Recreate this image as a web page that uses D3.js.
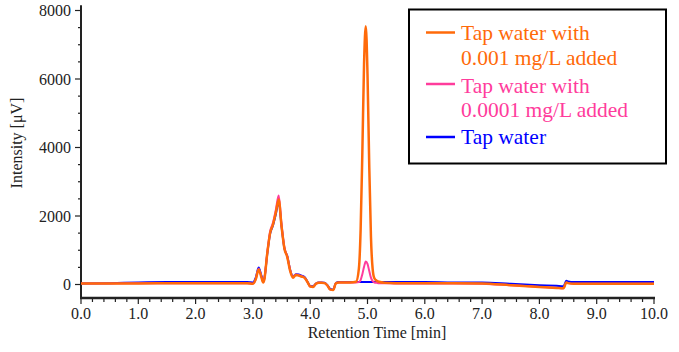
<!DOCTYPE html>
<html><head><meta charset="utf-8">
<script src="https://cdn.jsdelivr.net/npm/d3@7"></script>
<style>body{margin:0;background:#fff}svg{display:block}svg text{font-family:"Liberation Serif","Times New Roman",serif}</style>
</head><body>
<svg id="c" width="679" height="352"></svg>
<script>
const times = [0,0.5,1.0,1.5,2.0,2.5,2.9,3.0,3.05,3.1,3.15,3.18,3.2,3.25,3.3,3.35,3.4,3.45,3.5,3.55,3.6,3.65,3.7,3.75,3.8,3.85,3.9,3.95,4.0,4.05,4.1,4.15,4.2,4.25,4.3,4.35,4.4,4.45,4.5,4.6,4.7,4.8,4.85,4.88,4.91,4.94,4.97,5.0,5.03,5.06,5.09,5.12,5.16,5.2,5.3,5.5,6.0,6.5,7.0,7.5,8.0,8.3,8.42,8.47,8.5,8.6,9.0,9.5,10.0];
const orange = [30,30,30,35,40,40,40,20,150,440,200,60,150,900,1500,1750,2100,2480,1700,1050,800,400,200,280,260,230,200,80,-60,-70,20,50,50,40,-30,-150,-160,40,60,60,60,80,470,1600,3850,6450,7540,6150,3500,1400,450,180,110,80,50,40,40,40,30,-20,-70,-100,-110,60,40,20,20,20,20];
const pink = [30,30,35,40,40,40,40,20,160,460,220,70,160,920,1550,1800,2180,2600,1750,1080,820,420,210,290,270,240,200,80,-60,-70,20,50,50,40,-30,-150,-160,40,60,60,60,60,70,130,300,520,670,600,400,200,100,60,50,40,40,30,30,30,20,-20,-70,-100,-110,60,40,20,20,20,20];
const blue = [30,40,60,70,70,70,70,60,200,500,250,100,180,880,1480,1720,2050,2420,1700,1050,830,430,230,300,290,260,220,90,-40,-50,30,60,60,50,-20,-130,-150,50,70,70,70,70,70,70,70,70,70,70,70,70,70,70,70,70,70,70,70,60,60,20,-20,-40,-50,110,90,70,70,70,70];

const seriesNames = ["Tap water with|0.001 mg/L added","Tap water with|0.0001 mg/L added","Tap water"];
const seriesColors = ["#ff6a0a","#ff3c9c","#0000ff"];
const xTicks = [0,1,2,3,4,5,6,7,8,9,10];
const yTicks = [0,2000,4000,6000,8000];

const svg = d3.select("#c");
const x = d3.scaleLinear().domain([0,10]).range([81,654]);
const y = d3.scaleLinear().domain([0,8000]).range([284.5,10.5]);
const font = "Liberation Serif";
const axisColor = "#222";

// axis lines
svg.append("line").attr("x1",81).attr("x2",81).attr("y1",y(8150)).attr("y2",298.5)
  .attr("stroke",axisColor).attr("stroke-width",2);
svg.append("line").attr("x1",80).attr("x2",655).attr("y1",298).attr("y2",298)
  .attr("stroke",axisColor).attr("stroke-width",2.5);

// x ticks
const xMinor = d3.range(0,10.001,0.2);
svg.append("g").selectAll("line").data(xMinor).join("line")
  .attr("x1",d=>x(d)).attr("x2",d=>x(d)).attr("y1",298).attr("y2",d=>Math.abs(d-Math.round(d))<1e-6?304:302)
  .attr("stroke",axisColor).attr("stroke-width",1.2);
svg.append("g").selectAll("text").data(xTicks).join("text")
  .attr("x",d=>x(d)).attr("y",319).attr("text-anchor","middle")
  .style("font-family",font).attr("font-size",16).attr("fill","#222")
  .text(d=>d3.format(".1f")(d));

// y ticks
const yMinor = d3.range(0,8001,500);
svg.append("g").selectAll("line").data(yMinor).join("line")
  .attr("y1",d=>y(d)).attr("y2",d=>y(d)).attr("x1",81).attr("x2",d=>d%2000===0?75:78)
  .attr("stroke",axisColor).attr("stroke-width",1.2);
svg.append("g").selectAll("text").data(yTicks).join("text")
  .attr("x",71).attr("y",d=>y(d)+5.5).attr("text-anchor","end")
  .style("font-family",font).attr("font-size",16).attr("fill","#222")
  .text(d=>d);

// axis titles
svg.append("text").attr("transform","translate(22,143) rotate(-90)").attr("text-anchor","middle")
  .style("font-family",font).attr("font-size",16).attr("fill","#222").text("Intensity [\u03BCV]");
svg.append("text").attr("x",377).attr("y",338).attr("text-anchor","middle")
  .style("font-family",font).attr("font-size",16).attr("fill","#222").text("Retention Time [min]");

// lines
const line = d3.line().x(d=>x(d[0])).y(d=>y(d[1])).curve(d3.curveMonotoneX);
const data = [orange,pink,blue].map(v=>times.map((t,i)=>[t,v[i]]));
[2,1,0].forEach(i=>{
  svg.append("path").datum(data[i]).attr("d",line).attr("fill","none")
    .attr("stroke",seriesColors[i]).attr("stroke-width",i===0?2.5:2).attr("stroke-linejoin","round");
});

// legend
svg.append("rect").attr("x",409).attr("y",9.5).attr("width",257).attr("height",154)
  .attr("fill","#fff").attr("stroke","#000").attr("stroke-width",2);
const legLineY = [32.5,84,137];
const legTextY = [[39.5,64.5],[92.5,117],[143.5]];
seriesNames.forEach((n,i)=>{
  svg.append("line").attr("x1",426).attr("x2",455).attr("y1",legLineY[i]).attr("y2",legLineY[i])
    .attr("stroke",seriesColors[i]).attr("stroke-width",2.5);
  n.split("|").forEach((s,j)=>{
    svg.append("text").attr("x",461).attr("y",legTextY[i][j])
      .style("font-family",font).attr("font-size",21.5).attr("fill",seriesColors[i]).text(s);
  });
});
</script>
</body></html>
